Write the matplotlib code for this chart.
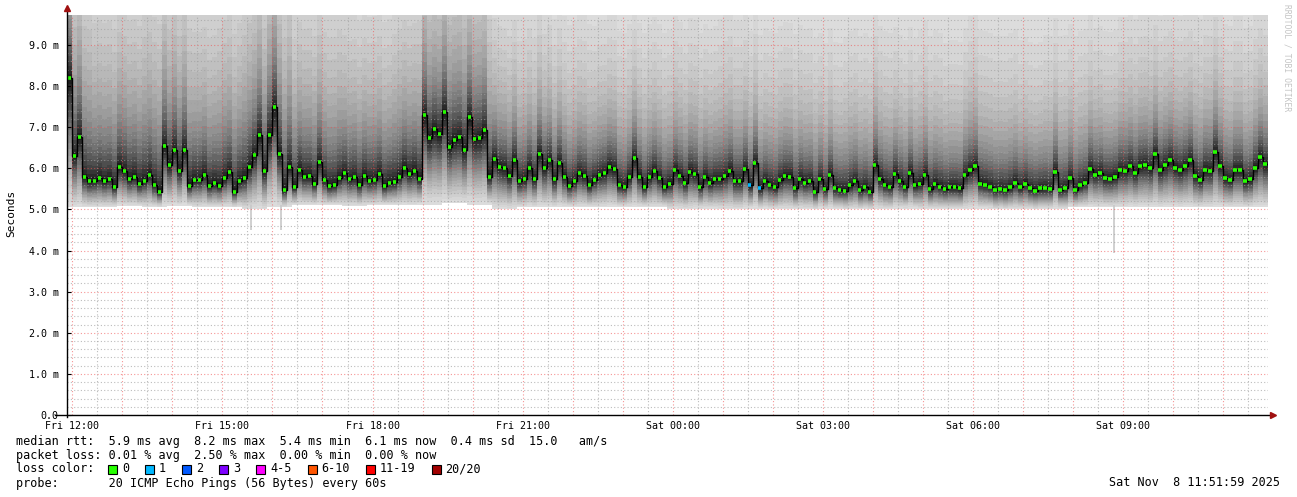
import numpy as np
import pandas as pd
import matplotlib
matplotlib.use('Agg')
import matplotlib.pyplot as plt
from matplotlib.patches import Rectangle

# median rtt in ms, one value per 6 minute step
median_ms = [
    8.2, 6.3, 6.77, 5.78, 5.68, 5.70, 5.77, 5.69, 5.74, 5.55,
    6.04, 5.94, 5.74, 5.80, 5.62, 5.70, 5.84, 5.60, 5.43, 6.54,
    6.08, 6.45, 5.94, 6.45, 5.58, 5.72, 5.72, 5.84, 5.57, 5.64,
    5.58, 5.76, 5.90, 5.43, 5.69, 5.76, 6.04, 6.32, 6.81, 5.94,
    6.8, 7.48, 6.35, 5.47, 6.04, 5.55, 5.96, 5.80, 5.81, 5.63,
    6.16, 5.72, 5.57, 5.59, 5.76, 5.88, 5.73, 5.78, 5.59, 5.81,
    5.70, 5.72, 5.86, 5.57, 5.65, 5.67, 5.80, 6.00, 5.86, 5.94,
    5.75, 7.3, 6.75, 6.95, 6.83, 7.37, 6.52, 6.7, 6.76, 6.45,
    7.24, 6.71, 6.75, 6.93, 5.80, 6.23, 6.04, 6.00, 5.81, 6.20,
    5.68, 5.73, 6.00, 5.74, 6.36, 6.0, 6.20, 5.73, 6.14, 5.80,
    5.57, 5.68, 5.88, 5.81, 5.59, 5.72, 5.84, 5.88, 6.04, 5.98,
    5.59, 5.55, 5.78, 6.24, 5.80, 5.55, 5.78, 5.94, 5.76, 5.54,
    5.63, 5.96, 5.81, 5.65, 5.92, 5.86, 5.55, 5.78, 5.65, 5.73,
    5.73, 5.81, 5.94, 5.68, 5.68, 5.98, 5.59, 6.14, 5.51, 5.68,
    5.59, 5.54, 5.72, 5.81, 5.80, 5.52, 5.74, 5.65, 5.68, 5.43,
    5.73, 5.49, 5.84, 5.51, 5.47, 5.46, 5.59, 5.68, 5.47, 5.54,
    5.43, 6.08, 5.73, 5.6, 5.55, 5.86, 5.68, 5.55, 5.88, 5.59,
    5.63, 5.85, 5.49, 5.62, 5.55, 5.49, 5.54, 5.54, 5.51, 5.84,
    5.96, 6.06, 5.63, 5.6, 5.55, 5.47, 5.49, 5.47, 5.54, 5.65,
    5.54, 5.63, 5.51, 5.46, 5.51, 5.51, 5.49, 5.92, 5.47, 5.51,
    5.76, 5.47, 5.59, 5.65, 5.98, 5.85, 5.89, 5.76, 5.75, 5.80,
    5.95, 5.94, 6.05, 5.89, 6.06, 6.08, 6.0, 6.35, 5.96, 6.08,
    6.2, 6.02, 5.96, 6.06, 6.2, 5.81, 5.72, 5.96, 5.94, 6.4,
    6.06, 5.76, 5.72, 5.96, 5.96, 5.68, 5.73, 6.02, 6.28, 6.1,
]
# lost pings (of 20) per step
loss_count = [0] * 240
loss_count[136] = 1
loss_count[138] = 1

# smoke spread, one value per 30 minute block
smoke_up = [
    1.8, 1.6, 1.6, 1.7, 1.6, 1.5, 1.6, 1.7, 1.8, 1.5, 1.5, 1.4,
    1.4, 1.5, 1.6, 1.7, 1.6, 1.2, 1.2, 1.15, 1.15, 1.1, 1.1, 1.1,
    1.1, 1.1, 1.15, 1.1, 1.1, 1.1, 1.05, 1.1, 1.1, 1.05, 1.1, 1.05,
    1.1, 1.1, 1.05, 1.1, 1.1, 1.05, 1.1, 1.1, 1.1, 1.15, 1.1, 1.1,
]
smoke_floor = [
    5.05, 5.05, 5.08, 5.05, 5.08, 5.05, 5.05, 5.0, 5.05, 5.1, 5.1, 5.08,
    5.1, 5.1, 5.12, 5.15, 5.12, 5.0, 5.05, 5.05, 5.05, 5.05, 5.05, 5.05,
    5.0, 5.02, 5.0, 5.02, 5.0, 5.0, 5.02, 5.0, 5.0, 5.02, 5.0, 5.0,
    5.02, 5.0, 5.0, 5.02, 5.05, 5.05, 5.05, 5.05, 5.05, 5.05, 5.05, 5.05,
]
# single low pings (hours after Fri 12:00, ms)
dip_hours = [3.58, 4.18, 20.82]
dip_ms = [4.5, 4.5, 3.95]

start = pd.Timestamp('2025-11-07 11:53:40')
times = pd.date_range(start, periods=len(median_ms) + 1, freq='6min')
t = ((times - pd.Timestamp('2025-11-07 12:00')) / pd.Timedelta(hours=1)).values

xtick_hours = [0, 3, 6, 9, 12, 15, 18, 21]
xtick_labels = ['Fri 12:00', 'Fri 15:00', 'Fri 18:00', 'Fri 21:00',
                'Sat 00:00', 'Sat 03:00', 'Sat 06:00', 'Sat 09:00']
ytick_vals = [0, 1, 2, 3, 4, 5, 6, 7, 8, 9]
ytick_labels = ['0.0', '1.0 m', '2.0 m', '3.0 m', '4.0 m', '5.0 m',
                '6.0 m', '7.0 m', '8.0 m', '9.0 m']

loss_labels = ['0', '1', '2', '3', '4-5', '6-10', '11-19', '20/20']
loss_colors = ['#26ff00', '#00b8ff', '#0059ff', '#7e00ff', '#ff00ff',
               '#ff5500', '#ff0000', '#a10000']

def loss_color(n):
    if n <= 3:
        return loss_colors[n]
    if n <= 5:
        return loss_colors[4]
    if n <= 10:
        return loss_colors[5]
    if n <= 19:
        return loss_colors[6]
    return loss_colors[7]

W, H = 1297, 497
fig = plt.figure(figsize=(W / 100, H / 100), dpi=100)
ax = fig.add_axes([67 / W, 1 - 415 / H, 1201 / W, 400 / H])
mono = 'DejaVu Sans Mono'

med = np.array(median_ms)
med_e = np.append(med, med[-1])
up_s = np.repeat(smoke_up, 5)
up_s = np.append(up_s, up_s[-1])
floor = np.repeat(smoke_floor, 5)
floor = np.append(floor, floor[-1])

# smoke profile, inner (dark) to outer (light)
up_off = [0.05, 0.1, 0.16, 0.22, 0.3, 0.38, 0.47, 0.57, 0.68, 0.8,
          0.95, 1.1, 1.3, 1.5, 1.75, 2.05, 2.4, 2.85, 3.4, 4.5]
down_frac = [0.05, 0.1, 0.15, 0.2, 0.25, 0.3, 0.35, 0.4, 0.45, 0.5,
             0.55, 0.6, 0.65, 0.7, 0.75, 0.8, 0.85, 0.9, 0.95, 1.0]
greys = ['#1e1e1e', '#2a2a2a', '#363636', '#424242', '#4e4e4e',
         '#5a5a5a', '#666666', '#727272', '#7e7e7e', '#888888',
         '#929292', '#9c9c9c', '#a6a6a6', '#afafaf', '#b8b8b8',
         '#c0c0c0', '#c8c8c8', '#cfcfcf', '#d6d6d6', '#dcdcdc']
for i in range(len(up_off) - 1, -1, -1):
    hi = med_e + up_off[i] * up_s
    lo = med_e - (med_e - floor) * down_frac[i]
    ax.fill_between(t, lo, hi, step='post', color=greys[i], lw=0, zorder=1)

ax.vlines(dip_hours, dip_ms, 5.1, color='#c8c8c8', lw=1.2, zorder=1.5)

# median line
ax.step(t, med_e, where='post', color='black', lw=1.0, zorder=4)
bw = t[1] - t[0]
ax.hlines(med, t[:-1] + 0.1 * bw, t[1:] - 0.25 * bw,
          colors=[loss_color(n) for n in loss_count], lw=2.6, zorder=5)

ax.set_xlim(t[0], t[-1])
ax.set_ylim(0, 9.73)

ax.set_xticks(range(0, 24))
ax.set_xticklabels([xtick_labels[xtick_hours.index(h)] if h in xtick_hours else ''
                    for h in range(0, 24)], fontfamily=mono, fontsize=7.2)
ax.set_xticks(np.arange(0.5, 24, 1), minor=True)
ax.set_yticks(ytick_vals)
ax.set_yticklabels(ytick_labels, fontfamily=mono, fontsize=7.2)
ax.set_yticks(np.arange(0.2, 9.73, 0.2), minor=True)
ax.tick_params(axis='x', which='both', length=0, pad=4)
ax.tick_params(axis='y', which='major', length=3, direction='in', pad=6)
ax.tick_params(axis='y', which='minor', length=0)

ax.set_axisbelow(False)
ax.grid(which='major', color='#f05050', alpha=0.6, lw=0.8, ls=(0, (1, 2)))
ax.grid(which='minor', color='#a0a0a0', alpha=0.7, lw=0.8, ls=(0, (1, 2)))

for s in ax.spines.values():
    s.set_visible(False)
ax.plot([0, 0], [-0.005, 1.018], transform=ax.transAxes, color='black', lw=1,
        clip_on=False, zorder=6)
ax.plot([-0.01, 1.004], [0, 0], transform=ax.transAxes, color='black', lw=1,
        clip_on=False, zorder=6)
ax.plot(0, 1.018, marker='^', ms=4, color='#a01010', transform=ax.transAxes,
        clip_on=False, zorder=7)
ax.plot(1.004, 0, marker='>', ms=4, color='#a01010', transform=ax.transAxes,
        clip_on=False, zorder=7)

def px(x, y):
    return x / W, 1 - y / H

fig.text(*px(11, 213), 'Seconds', rotation=90, ha='center', va='center',
         fontfamily=mono, fontsize=8)
fig.text(*px(1287, 4), 'RRDTOOL / TOBI OETIKER', rotation=270, ha='center',
         va='top', fontfamily=mono, fontsize=5.8, color='#c4c4c4')

legend_lines = [
    'median rtt:  5.9 ms avg  8.2 ms max  5.4 ms min  6.1 ms now  0.4 ms sd  15.0   am/s',
    'packet loss: 0.01 % avg  2.50 % max  0.00 % min  0.00 % now',
    'loss color:',
    'probe:       20 ICMP Echo Pings (56 Bytes) every 60s',
]
for i, line in enumerate(legend_lines):
    fig.text(*px(16, 441 + 14 * i), line, ha='left', va='center',
             fontfamily=mono, fontsize=8.5)

x = 108
for lab, col in zip(loss_labels, loss_colors):
    fig.add_artist(Rectangle(px(x, 473.5), 9 / W, 9 / H, transform=fig.transFigure,
                             facecolor=col, edgecolor='black', lw=0.8))
    fig.text(*px(x + 14, 469), lab, ha='left', va='center',
             fontfamily=mono, fontsize=8.5)
    x += 14 + len(lab) * 7.1 + 16

fig.text(*px(1280, 483), 'Sat Nov  8 11:51:59 2025', ha='right', va='center',
         fontfamily=mono, fontsize=8.5)

fig.savefig('out.png', dpi=100)
